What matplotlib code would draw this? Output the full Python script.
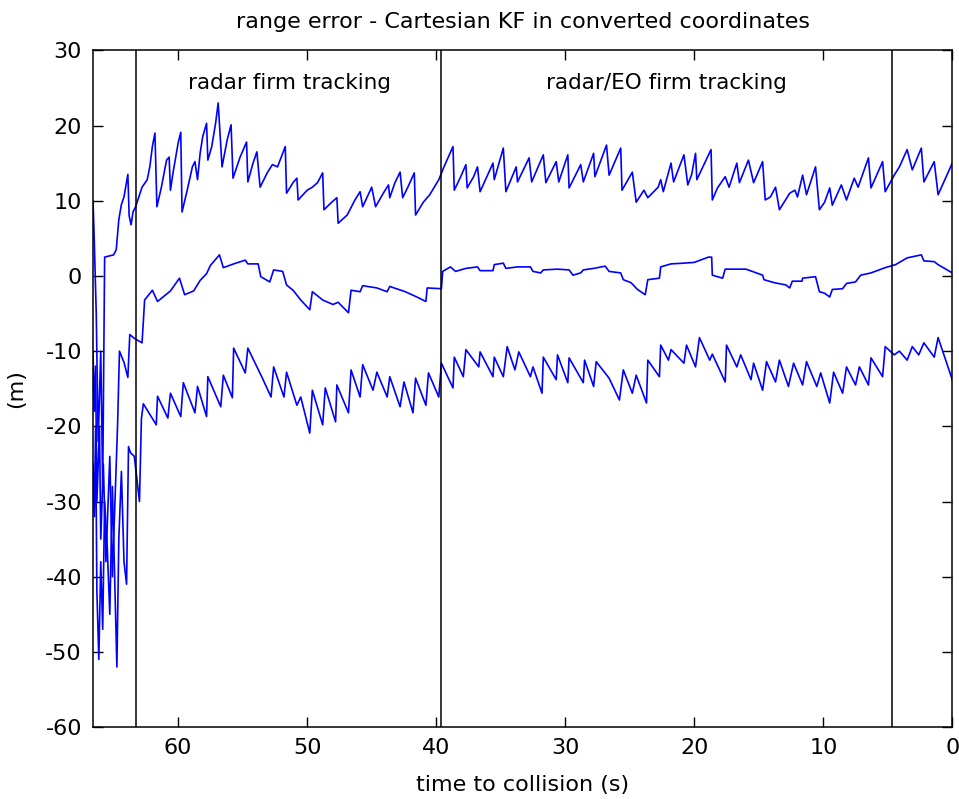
import numpy as np
import matplotlib
matplotlib.use("Agg")
import matplotlib.pyplot as plt

# (time to collision [s], error [m]) vertices
upper_pts = [
    (66.6, 10.0), (66.5, 4.5), (66.35, -5), (66.2, -22), (66.0, -10), (65.85, -28),
    (65.7, 2.5), (65.0, 2.8), (64.8, 3.5), (64.6, 7.5), (64.4, 9.5), (64.2, 10.5),
    (64.0, 12.5), (63.9, 13.5), (63.8, 8.0), (63.65, 6.8), (63.5, 8.5), (63.3, 9.2),
    (62.8, 11.8), (62.4, 12.8), (62.2, 14.5), (62.0, 17.2), (61.8, 19.0), (61.65, 9.2),
    (61.3, 11.8), (60.9, 15.4), (60.7, 15.8), (60.6, 11.4), (60.4, 13.7), (60.0, 17.7),
    (59.8, 19.1), (59.7, 8.5), (59.3, 11.4), (58.9, 14.5), (58.7, 15.2), (58.5, 12.8),
    (58.3, 16.3), (58.1, 18.5), (57.8, 20.3), (57.7, 15.4), (57.4, 17.2), (57.1, 20.3),
    (56.9, 23.0), (56.6, 14.5), (56.2, 18.1), (55.9, 20.1), (55.75, 13.0), (55.2, 15.8),
    (54.7, 17.8), (54.6, 12.5), (54.2, 15.0), (53.9, 16.5), (53.65, 11.8), (53.1, 13.7),
    (52.7, 14.8), (52.3, 14.5), (51.7, 17.2), (51.6, 11.0), (51.1, 12.4), (50.8, 13.0),
    (50.7, 10.1), (50.0, 11.4), (49.6, 11.8), (49.2, 12.4), (48.8, 13.7), (48.7, 8.8),
    (48.1, 9.8), (47.7, 10.4), (47.6, 7.0), (46.9, 8.1), (46.3, 10.1), (45.9, 11.2),
    (45.7, 9.2), (45.0, 11.8), (44.7, 9.2), (44.1, 11.0), (43.7, 12.1), (43.6, 10.4),
    (43.2, 12.4), (42.8, 13.8), (42.6, 10.4), (42.2, 11.8), (41.7, 13.7), (41.6, 8.1),
    (41.0, 9.8), (40.5, 10.8), (39.8, 12.8), (39.4, 14.5), (38.7, 17.2), (38.6, 11.4),
    (38.1, 13.2), (37.7, 14.8), (37.6, 11.7), (37.1, 13.2), (36.8, 14.5), (36.6, 11.2),
    (35.6, 15.0), (35.5, 12.8), (34.8, 17.0), (34.6, 11.2), (33.8, 14.5), (33.7, 12.5),
    (32.8, 15.7), (32.6, 12.5), (31.7, 16.1), (31.5, 12.4), (30.7, 15.2), (30.5, 12.5),
    (29.8, 16.1), (29.7, 11.7), (28.8, 14.8), (28.6, 12.5), (27.8, 16.3), (27.7, 13.2),
    (26.8, 17.4), (26.6, 13.4), (25.7, 17.0), (25.6, 11.4), (24.8, 13.8), (24.5, 9.8),
    (23.9, 11.4), (23.6, 10.4), (22.8, 11.8), (22.6, 12.8), (22.4, 11.2), (21.8, 15.0),
    (21.6, 12.5), (20.8, 16.1), (20.5, 12.1), (20.2, 13.5), (19.9, 16.3), (19.8, 12.8),
    (18.7, 16.8), (18.6, 10.1), (18.2, 11.7), (17.6, 13.2), (17.3, 11.8), (16.7, 15.0),
    (16.5, 12.4), (15.8, 15.4), (15.4, 12.4), (14.7, 15.2), (14.5, 10.1), (14.1, 10.5),
    (13.7, 11.8), (13.4, 8.8), (12.6, 11.0), (12.2, 11.4), (12.0, 10.5), (11.6, 13.4),
    (11.3, 10.8), (10.6, 14.5), (10.3, 8.8), (9.9, 9.8), (9.5, 11.7), (9.3, 9.4),
    (8.6, 12.1), (8.2, 10.1), (7.6, 13.0), (7.3, 11.8), (6.5, 15.7), (6.3, 11.7),
    (5.4, 15.2), (5.2, 11.2), (4.5, 13.4), (4.1, 14.5), (3.5, 16.8), (3.1, 14.1),
    (2.4, 17.0), (2.2, 12.5), (1.4, 15.2), (1.1, 10.8), (0.0, 15.0),
]

middle_pts = [
    (66.6, -10), (66.5, -18), (66.4, -12), (66.3, -30), (66.1, -20), (66.0, -35),
    (65.8, -25), (65.6, -38), (65.3, -24), (65.1, -40), (64.9, -30), (64.7, -20),
    (64.55, -10), (64.2, -11.5), (63.9, -13.5), (63.75, -7.8), (63.4, -8.3), (62.8, -8.9),
    (62.6, -3.2), (62.0, -1.9), (61.6, -3.4), (60.6, -2.0), (59.9, -0.3), (59.5, -2.5),
    (58.8, -2.0), (58.3, -0.6), (57.8, 0.3), (57.5, 1.4), (56.8, 2.8), (56.5, 1.1),
    (55.7, 1.6), (54.8, 2.1), (54.6, 1.6), (53.8, 1.6), (53.6, -0.1), (52.9, -0.8),
    (52.6, 0.8), (51.9, 0.6), (51.6, -1.2), (51.1, -1.9), (50.5, -3.2), (49.8, -4.5),
    (49.6, -2.1), (48.8, -3.2), (48.0, -3.8), (47.6, -3.5), (46.8, -4.9), (46.6, -1.9),
    (45.9, -2.1), (45.7, -1.3), (44.6, -1.6), (43.8, -2.1), (43.6, -1.4), (42.4, -2.1),
    (41.5, -2.8), (40.8, -3.4), (40.7, -1.6), (39.6, -1.7), (39.5, 0.6), (38.9, 1.2),
    (38.5, 0.6), (37.7, 1.0), (36.8, 1.2), (36.6, 0.7), (35.6, 0.7), (35.5, 1.5),
    (34.8, 1.7), (34.6, 1.0), (33.7, 1.2), (32.7, 1.2), (32.5, 0.6), (31.9, 0.4),
    (31.7, 0.8), (30.6, 0.9), (29.7, 0.8), (29.4, 0.1), (28.8, 0.4), (28.6, 0.8),
    (27.8, 1.0), (26.9, 1.3), (26.6, 0.6), (25.7, 0.4), (25.5, -0.5), (24.9, -0.9),
    (24.4, -1.8), (23.8, -2.5), (23.6, -0.5), (22.7, -0.3), (22.6, 1.2), (21.8, 1.6),
    (20.8, 1.7), (20.0, 1.8), (18.9, 2.5), (18.65, 2.5), (18.6, 0.1), (17.8, -0.3),
    (17.6, 0.9), (16.0, 0.9), (15.5, 0.6), (14.7, 0.1), (14.6, -0.5), (13.8, -0.9),
    (12.9, -1.2), (12.6, -1.6), (12.4, -0.7), (11.65, -0.7), (11.6, -0.3), (10.6, -0.1),
    (10.3, -2.1), (9.9, -2.3), (9.5, -2.8), (9.3, -1.8), (8.5, -1.7), (8.2, -1.0),
    (7.5, -0.8), (7.1, 0.1), (6.3, 0.4), (5.2, 1.1), (4.4, 1.5), (3.5, 2.4),
    (2.4, 2.8), (2.2, 2.0), (1.4, 1.9), (1.1, 1.5), (0.0, 0.4),
]

lower_pts = [
    (66.6, -25), (66.5, -32), (66.4, -20), (66.3, -42), (66.15, -51), (66.0, -38),
    (65.85, -47), (65.7, -30), (65.5, -36), (65.3, -45), (65.1, -28), (64.9, -42),
    (64.75, -52), (64.6, -35), (64.4, -26), (64.2, -38), (64.0, -41), (63.85, -22.7),
    (63.7, -23.5), (63.4, -24), (63.0, -30), (62.85, -19), (62.7, -17.0), (61.7, -19.8),
    (61.6, -16.0), (60.8, -18.9), (60.6, -15.6), (59.8, -18.7), (59.6, -14.2), (58.7, -18.2),
    (58.5, -14.7), (57.8, -18.7), (57.7, -13.4), (56.7, -17.4), (56.5, -13.2), (55.8, -16.2),
    (55.7, -9.6), (54.8, -12.9), (54.6, -9.6), (53.5, -13.5), (52.8, -16.1), (52.6, -12.1),
    (51.8, -16.1), (51.6, -12.8), (50.8, -17.2), (50.5, -16.1), (49.8, -20.9), (49.6, -15.2),
    (48.8, -19.8), (48.6, -14.9), (47.8, -19.4), (47.7, -14.5), (46.8, -18.2), (46.6, -12.5),
    (45.9, -16.1), (45.7, -11.8), (44.9, -15.2), (44.6, -12.8), (43.8, -16.1), (43.6, -13.4),
    (42.8, -17.4), (42.5, -14.1), (41.8, -18.2), (41.6, -13.6), (40.8, -17.2), (40.6, -12.9),
    (39.8, -16.1), (39.6, -11.6), (38.7, -14.9), (38.6, -10.8), (37.9, -13.4), (37.7, -9.8),
    (36.7, -12.1), (36.6, -10.1), (35.6, -13.4), (35.5, -10.8), (34.8, -13.4), (34.5, -9.4),
    (33.9, -12.5), (33.6, -10.1), (32.7, -13.4), (32.5, -12.1), (31.8, -15.6), (31.7, -10.8),
    (30.7, -13.8), (30.6, -10.5), (29.8, -14.2), (29.7, -10.9), (28.6, -14.2), (28.5, -11.2),
    (27.8, -14.7), (27.6, -11.4), (26.6, -13.6), (25.8, -16.5), (25.5, -12.5), (24.8, -15.6),
    (24.5, -13.2), (23.7, -16.9), (23.6, -11.2), (22.7, -13.4), (22.6, -9.2), (22.0, -11.2),
    (21.8, -9.8), (20.8, -11.6), (20.6, -9.2), (19.9, -12.1), (19.6, -8.2), (18.8, -11.2),
    (18.6, -10.4), (17.6, -14.1), (17.5, -9.2), (16.7, -12.1), (16.4, -10.5), (15.6, -13.8),
    (15.4, -11.6), (14.7, -15.2), (14.4, -11.4), (13.7, -14.1), (13.4, -11.2), (12.7, -14.7),
    (12.3, -11.6), (11.6, -14.5), (11.3, -11.4), (10.5, -14.7), (10.2, -12.9), (9.5, -16.9),
    (9.2, -12.8), (8.5, -15.6), (8.2, -12.1), (7.5, -14.5), (7.2, -12.1), (6.5, -14.5),
    (6.3, -10.9), (5.4, -13.4), (5.2, -9.4), (4.5, -10.5), (4.1, -10.0), (3.5, -11.2),
    (3.1, -9.4), (2.6, -10.5), (2.2, -8.9), (1.4, -10.8), (1.1, -8.2), (0.0, -13.8),
]

phase_lines = [63.3, 39.6, 4.7]
phase_labels = ["radar firm tracking", "radar/EO firm tracking"]
phase_label_x = [59.2, 31.5]

plt.rcParams['font.family'] = ['DejaVu Sans']
plt.rcParams['axes.unicode_minus'] = False

fig = plt.figure(figsize=(9.59, 7.99), dpi=100)
ax = fig.add_axes([0.097, 0.090, 0.896, 0.847])

for pts in (upper_pts, middle_pts, lower_pts):
    t, v = zip(*pts)
    ax.plot(t, v, color='#0000ff', linewidth=1.2)

for xl in phase_lines:
    ax.axvline(xl, color='black', linewidth=1.1)

for lab, xl in zip(phase_labels, phase_label_x):
    ax.text(xl, 25.6, lab, fontsize=15.5, ha='left', va='center')

ax.set_xlim(66.6, 0)
ax.set_ylim(-60, 30)
ax.set_xticks(np.arange(0, 61, 10))
ax.set_yticks(np.arange(-60, 31, 10))
ax.tick_params(direction='in', top=True, right=True, length=7, width=1,
               labelsize=16, pad=8)
for s in ax.spines.values():
    s.set_linewidth(1.1)

ax.set_title("range error - Cartesian KF in converted coordinates", fontsize=16, pad=16)
ax.set_xlabel("time to collision (s)", fontsize=16, labelpad=12)
ax.set_ylabel("(m)", fontsize=16, labelpad=14)

fig.savefig("out.png", dpi=100)
